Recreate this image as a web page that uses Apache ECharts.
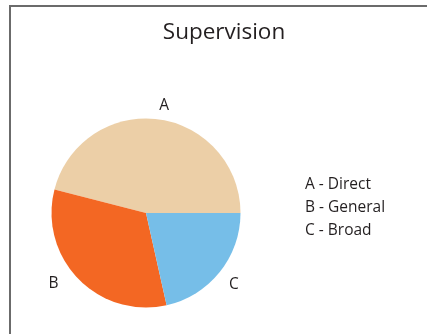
<!DOCTYPE html>
<html>
<head>
<meta charset="utf-8">
<script src="https://cdn.jsdelivr.net/npm/echarts@6/dist/echarts.min.js"></script>
<style>
  html, body { margin: 0; padding: 0; background: #ffffff; }
  #chart { width: 427px; height: 334px; }
</style>
</head>
<body>
<div id="chart"></div>
<script>
// Supervision types and their shares (percent)
const categories = ['A', 'B', 'C'];
const descriptions = ['Direct', 'General', 'Broad'];
const shares = [46, 32.5, 21.5];
const colors = ['#ECCFA7', '#F36723', '#76BEE8'];

// small per-slice nudges for the outside letter labels
const labelNudge = [[-5, -2], [-6, -4], [-5, 5]];

const chart = echarts.init(document.getElementById('chart'), null, { renderer: 'canvas' });

const textColor = '#231F20';
const fontFamily = '"Open Sans", "Noto Sans", sans-serif';

const option = {
  animation: false,
  backgroundColor: '#ffffff',
  title: {
    text: 'Supervision',
    left: 224,
    top: 21,
    padding: 0,
    textAlign: 'center',
    textStyle: {
      color: textColor,
      fontFamily: fontFamily,
      fontSize: 22.5,
      fontWeight: 'normal'
    }
  },
  legend: {
    orient: 'vertical',
    left: 300,
    top: 177,
    padding: 0,
    icon: 'none',
    itemWidth: 0,
    itemHeight: 16,
    itemGap: 7,
    selectedMode: false,
    data: categories,
    formatter: function (name) {
      return name + ' - ' + descriptions[categories.indexOf(name)];
    },
    textStyle: {
      color: textColor,
      fontFamily: fontFamily,
      fontSize: 15.5,
      lineHeight: 16
    }
  },
  graphic: [{
    type: 'rect',
    silent: true,
    shape: { x: 10, y: 6, width: 460, height: 360 },
    style: { fill: 'none', stroke: '#6b6b6b', lineWidth: 2 }
  }],
  series: [{
    type: 'pie',
    center: [146, 213],
    radius: 94.5,
    startAngle: 0,
    clockwise: false,
    avoidLabelOverlap: false,
    itemStyle: { borderWidth: 0 },
    emphasis: { disabled: true },
    label: {
      show: true,
      position: 'outside',
      formatter: '{b}',
      color: textColor,
      fontFamily: fontFamily,
      fontSize: 15.5
    },
    labelLine: { show: false, length: 12, length2: 0 },
    data: categories.map(function (name, i) {
      return {
        name: name,
        value: shares[i],
        itemStyle: { color: colors[i] },
        label: { offset: labelNudge[i] }
      };
    })
  }]
};

chart.setOption(option);
</script>
</body>
</html>
